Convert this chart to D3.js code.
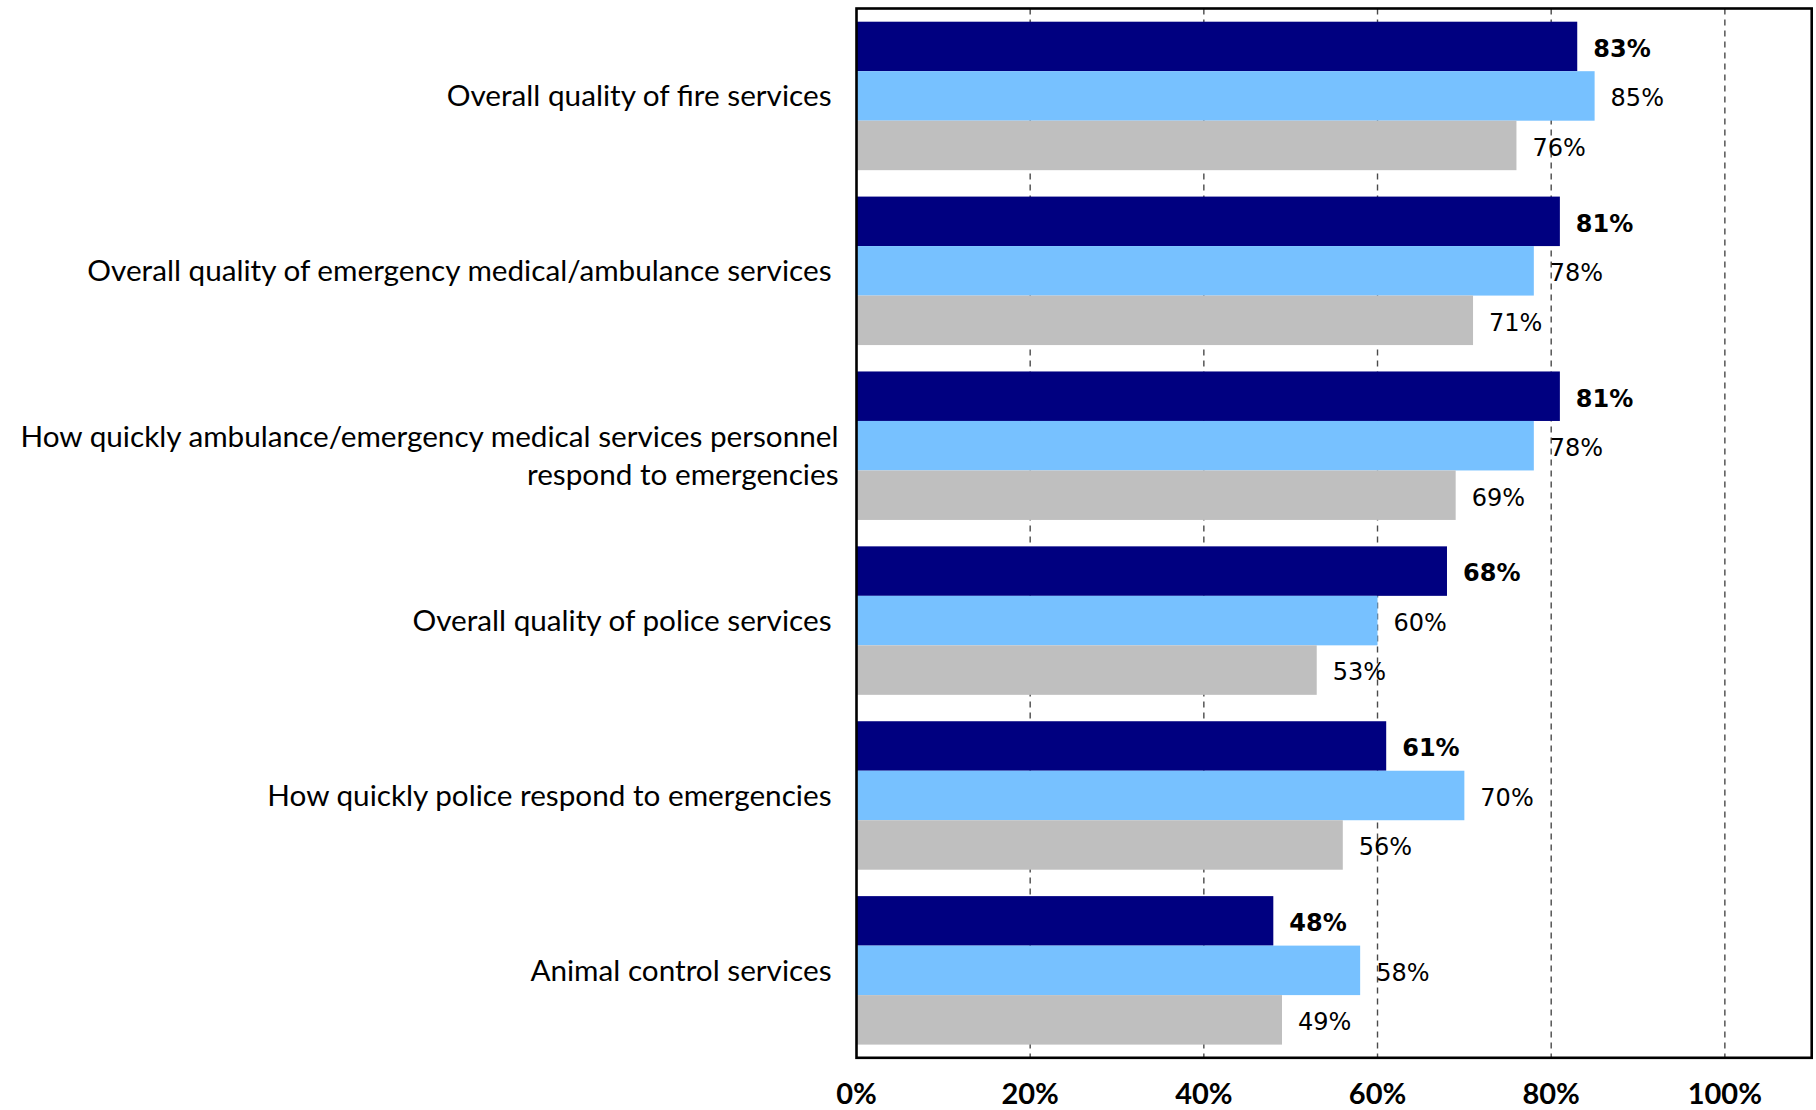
<!DOCTYPE html>
<html>
<head>
<meta charset="utf-8">
<script src="https://cdn.jsdelivr.net/npm/d3@7"></script>
<style>
  html, body { margin: 0; padding: 0; background: #ffffff; }
  svg { display: block; }
</style>
</head>
<body>
<svg id="chart" width="1816" height="1110"></svg>
<script>
// ---- data ----
const categories = [
  "Overall quality of fire services",
  "Overall quality of emergency medical/ambulance services",
  "How quickly ambulance/emergency medical services personnel\nrespond to emergencies",
  "Overall quality of police services",
  "How quickly police respond to emergencies",
  "Animal control services"
];
const seriesNames = ["Series 1", "Series 2", "Series 3"];
const series1 = [83, 81, 81, 68, 61, 48];
const series2 = [85, 78, 78, 60, 70, 58];
const series3 = [76, 71, 69, 53, 56, 49];
const tickValues = [0, 20, 40, 60, 80, 100];
const tickLabels = ["0%", "20%", "40%", "60%", "80%", "100%"];
const seriesColors = ["#000080", "#77C1FF", "#BFBFBF"];

const allSeries = [series1, series2, series3];

// ---- layout ----
const svg = d3.select("#chart");
const plot = { left: 856.5, right: 1811.7, top: 8.5, bottom: 1057.8 };

const x = d3.scaleLinear().domain([0, 110]).range([plot.left, plot.right]);
const y = d3.scaleBand().domain(d3.range(categories.length))
  .range([plot.top, plot.bottom]).paddingInner(0.151).paddingOuter(0.0755);
const ySub = d3.scaleBand().domain(d3.range(allSeries.length))
  .range([0, y.bandwidth()]).padding(0);

// gridlines (dashed), behind bars
svg.append("g").selectAll("line")
  .data(tickValues.filter(v => v > 0))
  .join("line")
  .attr("x1", d => x(d)).attr("x2", d => x(d))
  .attr("y1", plot.top).attr("y2", plot.bottom)
  .attr("stroke", "#4a4a4a")
  .attr("stroke-width", 1.4)
  .attr("stroke-dasharray", "6,5");

// bars
const rows = categories.map((c, i) => ({ i, vals: allSeries.map(s => s[i]) }));
const groups = svg.append("g").selectAll("g")
  .data(rows).join("g")
  .attr("transform", d => `translate(0,${y(d.i)})`);

groups.selectAll("rect")
  .data(d => d.vals.map((v, k) => ({ v, k })))
  .join("rect")
  .attr("x", x(0))
  .attr("y", d => ySub(d.k))
  .attr("width", d => x(d.v) - x(0))
  .attr("height", ySub.bandwidth())
  .attr("fill", d => seriesColors[d.k]);

groups.selectAll("text.val")
  .data(d => d.vals.map((v, k) => ({ v, k })))
  .join("text")
  .attr("class", "val")
  .attr("x", d => x(d.v) + 16)
  .attr("y", d => ySub(d.k) + ySub.bandwidth() / 2 + 2)
  .attr("dy", "0.35em")
  .attr("font-family", "DejaVu Sans, sans-serif")
  .attr("font-size", 24)
  .attr("font-weight", d => d.k === 0 ? "bold" : "normal")
  .attr("fill", "#000")
  .text(d => d.v + "%");

// category labels
const catG = svg.append("g");
categories.forEach((c, i) => {
  const lines = c.split("\n");
  const cy = y(i) + y.bandwidth() / 2;
  const lh = 38;
  const multi = lines.length > 1;
  const startY = multi ? cy + 10 - lh * (lines.length - 1) / 2 : cy;
  const t = catG.append("text")
    .attr("text-anchor", "end")
    .attr("font-family", "Lato, sans-serif")
    .attr("font-size", 29.7)
    .attr("fill", "#000");
  lines.forEach((ln, j) => {
    t.append("tspan")
      .attr("x", multi ? 838.5 : 831.5)
      .attr("y", startY + j * lh)
      .attr("dy", "0.35em")
      .text(ln);
  });
});

// x axis tick labels
svg.append("g").selectAll("text")
  .data(tickValues)
  .join("text")
  .attr("x", d => x(d))
  .attr("y", 1104)
  .attr("text-anchor", "middle")
  .attr("font-family", "Lato, sans-serif")
  .attr("font-weight", "bold")
  .attr("font-size", 29)
  .attr("fill", "#000")
  .text((d, i) => tickLabels[i]);

// frame
svg.append("rect")
  .attr("x", plot.left).attr("y", plot.top)
  .attr("width", plot.right - plot.left)
  .attr("height", plot.bottom - plot.top)
  .attr("fill", "none")
  .attr("stroke", "#000")
  .attr("stroke-width", 2.6);
</script>
</body>
</html>
